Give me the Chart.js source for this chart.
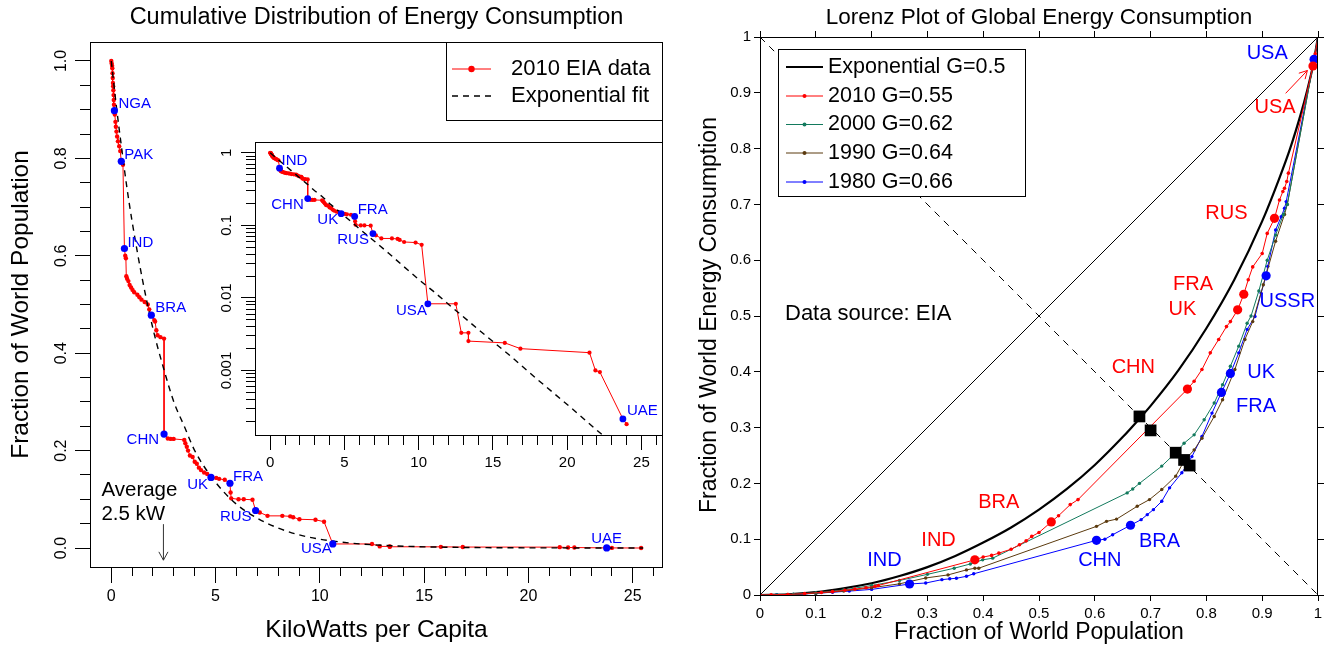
<!DOCTYPE html>
<html>
<head>
<meta charset="utf-8">
<title>Energy consumption distribution</title>
<script src="https://cdn.jsdelivr.net/npm/chart.js@4.4.1/dist/chart.umd.min.js"></script>
<style>
  body { margin: 0; background: #fff; }
  #wrap { position: relative; width: 1327px; height: 648px; overflow: hidden; background: #fff; }
  canvas { position: absolute; }
  #cdf { left: 0; top: 0; }
  #inset { left: 200px; top: 130px; }
  #lorenz { left: 690px; top: 0; }
</style>
</head>
<body>
<div id="wrap">
  <canvas id="cdf" width="690" height="648"></canvas>
  <canvas id="inset" width="470" height="340"></canvas>
  <canvas id="lorenz" width="637" height="648"></canvas>
</div>
<script>
// ---- left panel: 2010 EIA data, kW per capita vs fraction of population at or above it
const cdfKw = [
  0.00, 0.02, 0.04, 0.05, 0.06, 0.07, 0.08, 0.09, 0.10, 0.11, 0.12, 0.13, 0.15,
  0.17, 0.20, 0.22, 0.25, 0.28, 0.32, 0.38, 0.43, 0.48, 0.56,
  0.63, 0.67, 0.70, 0.72, 0.76, 0.82, 0.88, 0.95, 1.02, 1.10, 1.25, 1.35, 1.45, 1.60, 1.75, 1.82, 1.92,
  2.06, 2.10, 2.16, 2.22, 2.36, 2.53,
  2.53, 2.71, 2.85, 2.99, 3.50, 3.55, 3.62, 3.68, 3.77, 3.90, 4.00, 4.10, 4.20, 4.30, 4.45, 4.60, 4.78,
  5.03, 5.17, 5.44, 5.69, 5.72, 5.75, 6.10, 6.35, 6.77, 6.92,
  7.12, 7.49, 8.20, 8.58, 8.72, 9.02, 9.79, 10.20,
  10.62, 12.50, 12.87, 13.35, 13.35, 15.80, 16.85, 21.50, 21.90, 22.20, 23.75, 24.00, 25.40
];
const cdfFrac = [
  1.000, 0.995, 0.990, 0.985, 0.975, 0.965, 0.955, 0.948, 0.940, 0.930, 0.920, 0.910, 0.898,
  0.890, 0.875, 0.865, 0.855, 0.845, 0.835, 0.825, 0.815, 0.794, 0.787,
  0.615, 0.600, 0.595, 0.558, 0.553, 0.548, 0.540, 0.535, 0.530, 0.525, 0.520, 0.515, 0.510, 0.505, 0.500, 0.490, 0.478,
  0.468, 0.465, 0.447, 0.437, 0.433, 0.430,
  0.234, 0.225, 0.224, 0.224, 0.222, 0.215, 0.208, 0.200, 0.190, 0.187, 0.177, 0.173, 0.165, 0.160, 0.155, 0.152, 0.145,
  0.144, 0.142, 0.140, 0.133, 0.114, 0.102, 0.100, 0.100, 0.099, 0.077,
  0.073, 0.066, 0.066, 0.065, 0.063, 0.059, 0.058, 0.054,
  0.0083, 0.0083, 0.0033, 0.0033, 0.00254, 0.0024, 0.0020, 0.00176, 0.0010, 0.00095, 0.000215, 0.000182, 0
];

const countryCodes = ['NGA', 'PAK', 'IND', 'BRA', 'CHN', 'UK', 'FRA', 'RUS', 'USA', 'UAE'];
const countryKw = [0.15, 0.48, 0.63, 1.92, 2.53, 4.78, 5.69, 6.92, 10.62, 23.75];
const countryFrac = [0.898, 0.794, 0.615, 0.478, 0.234, 0.145, 0.133, 0.077, 0.0083, 0.000215];
const insetCountries = ['IND', 'CHN', 'UK', 'FRA', 'RUS', 'USA', 'UAE'];

// exponential fit
const fitKw = [0, 0.25, 0.5, 0.75, 1, 1.5, 2, 2.5, 3, 3.5, 4, 5, 6, 7, 8, 9, 10, 11, 12, 14, 16, 18, 20, 22, 24, 25.5];
const fitFrac = [1.0, 0.905, 0.82, 0.74, 0.67, 0.55, 0.45, 0.37, 0.30, 0.25, 0.20, 0.135, 0.09, 0.061, 0.041,
  0.027, 0.018, 0.0123, 0.0082, 0.0037, 0.0017, 0.00075, 0.00034, 0.00015, 0.000068, 0.000037];

const avgKw = 2.5;
const avgArrowFrac = [0.049, -0.025];
const avgLines = ['Average', '2.5 kW'];

const cdfXTicks = [0, 1, 2, 3, 4, 5, 6, 7, 8, 9, 10, 11, 12, 13, 14, 15, 16, 17, 18, 19, 20, 21, 22, 23, 24, 25, 26];
const cdfXMajor = [0, 5, 10, 15, 20, 25];
const cdfYTicks = [0, 0.05, 0.1, 0.15, 0.2, 0.25, 0.3, 0.35, 0.4, 0.45, 0.5, 0.55, 0.6, 0.65, 0.7, 0.75, 0.8, 0.85, 0.9, 0.95, 1.0];
const cdfYMajor = [0, 0.2, 0.4, 0.6, 0.8, 1.0];
const insetYTicks = [0.0002, 0.0003, 0.0004, 0.0005, 0.0006, 0.0007, 0.0008, 0.0009,
  0.001, 0.002, 0.003, 0.004, 0.005, 0.006, 0.007, 0.008, 0.009,
  0.01, 0.02, 0.03, 0.04, 0.05, 0.06, 0.07, 0.08, 0.09,
  0.1, 0.2, 0.3, 0.4, 0.5, 0.6, 0.7, 0.8, 0.9, 1];
const insetYMajor = [0.001, 0.01, 0.1, 1];

// ---- right panel: Lorenz curves
const expPop = [0, 0.05, 0.1, 0.15, 0.2, 0.25, 0.3, 0.35, 0.4, 0.45, 0.5, 0.55, 0.6, 0.65, 0.68, 0.7, 0.75, 0.8, 0.85, 0.9, 0.93, 0.95, 0.97, 0.98, 0.99, 1];
const expEnergy = [0, 0.001, 0.005, 0.012, 0.021, 0.034, 0.050, 0.070, 0.094, 0.121, 0.153, 0.190, 0.233, 0.283, 0.316, 0.339, 0.403, 0.478, 0.565, 0.670, 0.745, 0.800, 0.865, 0.902, 0.944, 1];

const pop2010 = [0, 0.02, 0.05, 0.08, 0.11, 0.13, 0.152, 0.17, 0.19, 0.206, 0.212, 0.385, 0.40, 0.415, 0.428, 0.45, 0.465,
  0.477, 0.487, 0.50, 0.522, 0.535, 0.556, 0.570, 0.766, 0.778, 0.792, 0.807, 0.822, 0.836, 0.843, 0.856, 0.867,
  0.875, 0.883, 0.90, 0.909, 0.922, 0.931, 0.937, 0.94, 0.944, 0.947, 0.991, 0.995, 1];
const energy2010 = [0, 0.0003, 0.001, 0.0025, 0.0045, 0.006, 0.0084, 0.0105, 0.013, 0.0155, 0.017, 0.063, 0.068, 0.071, 0.075, 0.082, 0.090,
  0.097, 0.105, 0.112, 0.131, 0.142, 0.162, 0.171, 0.369, 0.383, 0.404, 0.434, 0.458, 0.481, 0.490, 0.511, 0.539,
  0.565, 0.588, 0.612, 0.648, 0.675, 0.708, 0.723, 0.729, 0.741, 0.756, 0.948, 0.970, 1];

const pop2000 = [0, 0.03, 0.06, 0.1, 0.15, 0.2, 0.25, 0.3, 0.348, 0.377, 0.399, 0.417, 0.658, 0.668, 0.68, 0.72, 0.745, 0.76,
  0.778, 0.796, 0.814, 0.829, 0.843, 0.858, 0.873, 0.88, 0.894, 0.909, 0.924, 0.938, 0.945, 0.992, 1];
const energy2000 = [0, 0.0005, 0.0015, 0.004, 0.009, 0.017, 0.026, 0.037, 0.048, 0.0556, 0.063, 0.066, 0.183, 0.19, 0.2, 0.231, 0.255, 0.272,
  0.287, 0.314, 0.344, 0.377, 0.41, 0.446, 0.487, 0.5, 0.545, 0.6, 0.645, 0.682, 0.7, 0.955, 1];

const pop1990 = [0, 0.05, 0.1, 0.15, 0.2, 0.25, 0.297, 0.337, 0.37, 0.385, 0.392, 0.603, 0.621, 0.639, 0.676, 0.698, 0.72, 0.745,
  0.76, 0.778, 0.792, 0.814, 0.829, 0.851, 0.869, 0.883, 0.902, 0.924, 0.94, 0.945, 0.992, 1];
const energy1990 = [0, 0.001, 0.003, 0.007, 0.013, 0.02, 0.0305, 0.036, 0.045, 0.048, 0.048, 0.123, 0.132, 0.136, 0.159, 0.171, 0.189, 0.213,
  0.24, 0.26, 0.281, 0.32, 0.35, 0.404, 0.458, 0.49, 0.556, 0.634, 0.682, 0.7, 0.955, 1];

const pop1980 = [0, 0.03, 0.06, 0.1, 0.13, 0.16, 0.2, 0.268, 0.297, 0.326, 0.34, 0.352, 0.37, 0.383, 0.603, 0.618, 0.632, 0.664,
  0.683, 0.694, 0.705, 0.72, 0.734, 0.756, 0.774, 0.792, 0.81, 0.827, 0.843, 0.858, 0.873, 0.887, 0.898, 0.907,
  0.91, 0.924, 0.934, 0.94, 0.943, 0.993, 1];
const energy1980 = [0, 0.0004, 0.0012, 0.003, 0.005, 0.007, 0.01, 0.0197, 0.0215, 0.0275, 0.029, 0.030, 0.0335, 0.038, 0.098, 0.1, 0.108, 0.125,
  0.135, 0.144, 0.153, 0.168, 0.192, 0.219, 0.248, 0.284, 0.326, 0.363, 0.397, 0.434, 0.476, 0.499, 0.541, 0.572,
  0.589, 0.654, 0.678, 0.693, 0.705, 0.96, 1];

// highlighted countries on the 2010 and 1980 curves
const red2010Names = ['IND', 'BRA', 'CHN', 'UK', 'FRA', 'RUS', 'USA'];
const red2010Pop = [0.385, 0.522, 0.766, 0.856, 0.867, 0.922, 0.991];
const red2010Energy = [0.063, 0.131, 0.369, 0.511, 0.539, 0.675, 0.948];
const red2010LabelX = [0.32, 0.428, 0.669, 0.757, 0.776, 0.836, 0.923];
const red2010LabelY = [0.098, 0.165, 0.408, 0.511, 0.556, 0.684, 0.874];

const blue1980Names = ['IND', 'CHN', 'BRA', 'FRA', 'UK', 'USSR', 'USA'];
const blue1980Pop = [0.268, 0.603, 0.664, 0.827, 0.843, 0.907, 0.993];
const blue1980Energy = [0.0197, 0.098, 0.125, 0.363, 0.397, 0.572, 0.96];
const blue1980LabelX = [0.223, 0.609, 0.716, 0.889, 0.898, 0.945, 0.909];
const blue1980LabelY = [0.062, 0.062, 0.096, 0.337, 0.398, 0.526, 0.97];

// where each curve meets the anti-diagonal
const crossPop = [0.68, 0.70, 0.745, 0.76, 0.77];
const crossEnergy = [0.32, 0.295, 0.255, 0.242, 0.232];

const usaArrowPop = [0.942, 0.981];
const usaArrowEnergy = [0.899, 0.94];

const lorenzTicks = [0, 0.1, 0.2, 0.3, 0.4, 0.5, 0.6, 0.7, 0.8, 0.9, 1];
const lorenzLegend = ['Exponential G=0.5', '2010 G=0.55', '2000 G=0.62', '1990 G=0.64', '1980 G=0.66'];

const FONT = "'Liberation Sans', Arial, Helvetica, sans-serif";
const RED = '#ff0000', BLUE = '#0000ff', GREEN = '#137a5d', BROWN = '#5b3a0e';

Chart.defaults.font.family = FONT;
Chart.defaults.color = '#000';

function pts(xs, ys) {
  return xs.map((x, i) => ({ x: x, y: ys[i] }));
}

// R style axis: ticks outside, short minor ticks, labels only where wanted
function rAxis(o) {
  const horiz = o.position === 'bottom' || o.position === 'top';
  const isMinor = c => !!(o.major && c.tick && !o.major.includes(c.tick.value));
  return {
    type: o.type || 'linear',
    position: o.position,
    min: o.min,
    max: o.max,
    bounds: 'data',
    afterFit: s => { if (horiz) s.height = o.size; else s.width = o.size; },
    afterBuildTicks: s => { s.ticks = o.ticks.map(v => ({ value: v })); },
    border: { display: false },
    grid: {
      drawOnChartArea: false,
      drawTicks: true,
      tickLength: o.tl,
      tickColor: '#000',
      tickWidth: 1,
      tickBorderDash: c => isMinor(c) ? (horiz ? [o.minorLen, o.tl] : [o.minorLen, o.tl - o.minorLen]) : [],
      tickBorderDashOffset: c => (isMinor(c) && !horiz) ? o.minorLen : 0
    },
    ticks: {
      display: !!o.label,
      autoSkip: false,
      minRotation: o.rotate || 0,
      maxRotation: o.rotate || 0,
      crossAlign: o.rotate ? 'center' : 'near',
      padding: o.padding || 0,
      color: '#000',
      font: { size: o.font || 14 },
      callback: v => o.label ? o.label(v) : ''
    }
  };
}

function txt(ctx, s, x, y, size, opt) {
  opt = opt || {};
  ctx.save();
  ctx.font = size + 'px ' + FONT;
  ctx.fillStyle = opt.color || '#000';
  ctx.textAlign = opt.align || 'center';
  ctx.textBaseline = 'middle';
  ctx.translate(x, y);
  if (opt.rotate) ctx.rotate(-Math.PI / 2);
  ctx.fillText(s, 0, 0);
  ctx.restore();
}

function plotBox(ctx, a) {
  ctx.save();
  ctx.strokeStyle = '#000';
  ctx.lineWidth = 1;
  ctx.strokeRect(Math.round(a.left) + 0.5, Math.round(a.top) + 0.5,
    Math.round(a.right - a.left) - 1, Math.round(a.bottom - a.top));
  ctx.restore();
}

function seg(ctx, x1, y1, x2, y2, color, width, dash) {
  ctx.save();
  ctx.strokeStyle = color;
  ctx.lineWidth = width;
  ctx.setLineDash(dash || []);
  ctx.beginPath();
  ctx.moveTo(x1, y1);
  ctx.lineTo(x2, y2);
  ctx.stroke();
  ctx.restore();
}

function arrow(ctx, x1, y1, x2, y2, color, head) {
  seg(ctx, x1, y1, x2, y2, color, 1);
  const ang = Math.atan2(y2 - y1, x2 - x1);
  [-0.5, 0.5].forEach(d => {
    seg(ctx, x2, y2, x2 - head * Math.cos(ang + d), y2 - head * Math.sin(ang + d), color, 1);
  });
}

function dot(ctx, x, y, r, color) {
  ctx.save();
  ctx.fillStyle = color;
  ctx.beginPath();
  ctx.arc(x, y, r, 0, Math.PI * 2);
  ctx.fill();
  ctx.restore();
}

const baseOpts = {
  responsive: false,
  animation: false,
  events: [],
  plugins: { legend: { display: false }, tooltip: { enabled: false } }
};

// label offsets in pixels from the marked point: [dx, dy, align]
const cdfLabelStyle = {
  NGA: [4, -7, 'left'], PAK: [3, -6, 'left'], IND: [3, -6, 'left'], BRA: [4, -7, 'left'],
  CHN: [-5, 6, 'right'], UK: [-3, 7, 'right'], FRA: [3, -6, 'left'], RUS: [-4, 6, 'right'],
  USA: [-1, 5, 'right'], UAE: [0, -9, 'center']
};
const insetLabelStyle = {
  IND: [2, -7, 'left'], CHN: [-4, 6, 'right'], UK: [-3, 6, 'right'], FRA: [3, -7, 'left'],
  RUS: [-4, 6, 'right'], USA: [-1, 7, 'right'], UAE: [4, -8, 'left']
};

// ---------------- main CDF panel
const cdfDecor = {
  id: 'cdfDecor',
  afterDraw(chart) {
    const { ctx, chartArea: a, scales } = chart;
    const sx = scales.x, sy = scales.y;
    plotBox(ctx, a);
    const cx = (a.left + a.right) / 2;
    txt(ctx, 'Cumulative Distribution of Energy Consumption', cx, 18, 23.5);
    txt(ctx, 'KiloWatts per Capita', cx, 630, 24.5);
    txt(ctx, 'Fraction of World Population', 21.5, (a.top + a.bottom) / 2, 24.5, { rotate: true });

    // legend
    const lx = 446, ly = Math.round(a.top);
    ctx.save();
    ctx.fillStyle = '#fff';
    ctx.fillRect(lx + 0.5, ly + 0.5, Math.round(a.right) - lx - 1, 78);
    ctx.strokeStyle = '#000';
    ctx.lineWidth = 1;
    ctx.strokeRect(lx + 0.5, ly + 0.5, Math.round(a.right) - lx - 1, 78);
    ctx.restore();
    seg(ctx, lx + 6, ly + 27, lx + 45, ly + 27, RED, 1);
    dot(ctx, lx + 25.5, ly + 27, 3.2, RED);
    seg(ctx, lx + 6, ly + 54, lx + 45, ly + 54, '#000', 1.4, [6, 5]);
    txt(ctx, '2010 EIA data', lx + 65, ly + 27, 22, { align: 'left' });
    txt(ctx, 'Exponential fit', lx + 65, ly + 54, 22, { align: 'left' });

    // average marker
    const ax = sx.getPixelForValue(avgKw);
    const ay1 = sy.getPixelForValue(avgArrowFrac[0]);
    const ay2 = sy.getPixelForValue(avgArrowFrac[1]);
    arrow(ctx, ax, ay1, ax, ay2, '#333', 9.5);
    txt(ctx, avgLines[0], ax - 62, ay1 - 34, 20.5, { align: 'left' });
    txt(ctx, avgLines[1], ax - 62, ay1 - 10, 20.5, { align: 'left' });

    countryCodes.forEach((c, i) => {
      const st = cdfLabelStyle[c];
      txt(ctx, c, sx.getPixelForValue(countryKw[i]) + st[0], sy.getPixelForValue(countryFrac[i]) + st[1], 15,
        { align: st[2], color: BLUE });
    });
  }
};

new Chart(document.getElementById('cdf'), {
  type: 'scatter',
  data: {
    datasets: [
      { data: pts(countryKw, countryFrac), showLine: false, pointRadius: 3.6,
        pointBackgroundColor: BLUE, pointBorderWidth: 0 },
      { data: pts(fitKw, fitFrac), showLine: true, borderColor: '#000', borderWidth: 1.4,
        borderDash: [6, 5], pointRadius: 0, cubicInterpolationMode: 'monotone' },
      { data: pts(cdfKw, cdfFrac), showLine: true, borderColor: RED, borderWidth: 1,
        pointRadius: 2.2, pointBackgroundColor: RED, pointBorderWidth: 0 }
    ]
  },
  options: Object.assign({}, baseOpts, {
    layout: { padding: { left: 0, top: 42, right: 27, bottom: 0 } },
    scales: {
      x: rAxis({ position: 'bottom', min: -1.02, max: 26.45, size: 81, ticks: cdfXTicks, major: cdfXMajor,
        tl: 16, minorLen: 9, padding: 4, font: 16, label: v => cdfXMajor.includes(v) ? String(v) : '' }),
      y: rAxis({ position: 'left', min: -0.039, max: 1.039, size: 90, ticks: cdfYTicks, major: cdfYMajor,
        tl: 15, minorLen: 10, padding: 2, font: 16, rotate: 90,
        label: v => cdfYMajor.includes(v) ? v.toFixed(1) : '' })
    }
  }),
  plugins: [cdfDecor]
});

// ---------------- log inset
const insetDecor = {
  id: 'insetDecor',
  afterDraw(chart) {
    const { ctx, chartArea: a, scales } = chart;
    plotBox(ctx, a);
    countryCodes.forEach((c, i) => {
      if (!insetCountries.includes(c)) return;
      const st = insetLabelStyle[c];
      txt(ctx, c, scales.x.getPixelForValue(countryKw[i]) + st[0], scales.y.getPixelForValue(countryFrac[i]) + st[1], 15,
        { align: st[2], color: BLUE });
    });
  }
};

const insetPick = countryCodes.map(c => insetCountries.includes(c));

new Chart(document.getElementById('inset'), {
  type: 'scatter',
  data: {
    datasets: [
      { data: pts(countryKw, countryFrac).filter((p, i) => insetPick[i]), showLine: false, pointRadius: 3.4,
        pointBackgroundColor: BLUE, pointBorderWidth: 0 },
      { data: pts(fitKw, fitFrac), showLine: true, borderColor: '#000', borderWidth: 1.4,
        borderDash: [6, 5], pointRadius: 0 },
      { data: pts(cdfKw, cdfFrac).filter(p => p.y > 0), showLine: true, borderColor: RED, borderWidth: 1,
        pointRadius: 2.1, pointBackgroundColor: RED, pointBorderWidth: 0 }
    ]
  },
  options: Object.assign({}, baseOpts, {
    layout: { padding: { left: 0, top: 12, right: 7, bottom: 0 } },
    scales: {
      x: rAxis({ position: 'bottom', min: -1.02, max: 26.45, size: 35, ticks: cdfXTicks, major: cdfXMajor,
        tl: 15, minorLen: 10, padding: 4, font: 15, label: v => cdfXMajor.includes(v) ? String(v) : '' }),
      y: rAxis({ type: 'logarithmic', position: 'left', min: 0.000129, max: 1.41, size: 55, ticks: insetYTicks,
        major: insetYMajor, tl: 14, minorLen: 9, padding: -5, font: 15, rotate: 90,
        label: v => insetYMajor.includes(v) ? String(v) : '' })
    }
  }),
  plugins: [insetDecor]
});

// ---------------- Lorenz panel
const lorenzDecor = {
  id: 'lorenzDecor',
  afterDraw(chart) {
    const { ctx, chartArea: a, scales } = chart;
    const sx = scales.x, sy = scales.y;
    plotBox(ctx, a);
    const cx = (a.left + a.right) / 2;
    txt(ctx, 'Lorenz Plot of Global Energy Consumption', cx, 17.5, 22.5);
    txt(ctx, 'Fraction of World Population', cx, 633, 23);
    txt(ctx, 'Fraction of World Energy Consumption', 20, 315, 23, { rotate: true });
    txt(ctx, 'Data source: EIA', 95, 313.5, 22, { align: 'left' });

    // legend
    const lx = 88, ly = 49, lw = 247, lh = 147;
    ctx.save();
    ctx.fillStyle = '#fff';
    ctx.fillRect(lx + 0.5, ly + 0.5, lw, lh);
    ctx.strokeStyle = '#000';
    ctx.lineWidth = 1;
    ctx.strokeRect(lx + 0.5, ly + 0.5, lw, lh);
    ctx.restore();
    const rows = [67, 96, 124.5, 153, 182];
    const cols = ['#000', RED, GREEN, BROWN, BLUE];
    lorenzLegend.forEach((t, i) => {
      seg(ctx, 96, rows[i], 133, rows[i], cols[i], i === 0 ? 2 : 1);
      if (i > 0) dot(ctx, 114.5, rows[i], 2, cols[i]);
      txt(ctx, t, 138, rows[i], 21.5, { align: 'left' });
    });

    red2010Names.forEach((n, i) => {
      txt(ctx, n, sx.getPixelForValue(red2010LabelX[i]), sy.getPixelForValue(red2010LabelY[i]), 20, { color: RED });
    });
    blue1980Names.forEach((n, i) => {
      txt(ctx, n, sx.getPixelForValue(blue1980LabelX[i]), sy.getPixelForValue(blue1980LabelY[i]), 20, { color: BLUE });
    });
    arrow(ctx, sx.getPixelForValue(usaArrowPop[0]), sy.getPixelForValue(usaArrowEnergy[0]),
      sx.getPixelForValue(usaArrowPop[1]), sy.getPixelForValue(usaArrowEnergy[1]), RED, 9);
  }
};

function curve(xs, ys, color, r) {
  return { data: pts(xs, ys), showLine: true, borderColor: color, borderWidth: 1,
    pointRadius: r, pointBackgroundColor: color, pointBorderWidth: 0 };
}

new Chart(document.getElementById('lorenz'), {
  type: 'scatter',
  data: {
    datasets: [
      { data: pts(crossPop, crossEnergy), showLine: false, pointStyle: 'rect', pointRadius: 8.3,
        pointBackgroundColor: '#000', pointBorderWidth: 0 },
      { data: pts(red2010Pop, red2010Energy), showLine: false, pointRadius: 4.6,
        pointBackgroundColor: RED, pointBorderWidth: 0 },
      { data: pts(blue1980Pop, blue1980Energy), showLine: false, pointRadius: 4.6,
        pointBackgroundColor: BLUE, pointBorderWidth: 0 },
      curve(pop2010, energy2010, RED, 1.8),
      curve(pop2000, energy2000, GREEN, 1.7),
      curve(pop1990, energy1990, BROWN, 1.7),
      curve(pop1980, energy1980, BLUE, 1.7),
      { data: pts(expPop, expEnergy), showLine: true, borderColor: '#000', borderWidth: 2.2,
        pointRadius: 0, cubicInterpolationMode: 'monotone' },
      { data: pts([0, 1], [0, 1]), showLine: true, borderColor: '#000', borderWidth: 1, pointRadius: 0 },
      { data: pts([0, 1], [1, 0]), showLine: true, borderColor: '#000', borderWidth: 1,
        borderDash: [7, 6], pointRadius: 0 }
    ]
  },
  options: Object.assign({}, baseOpts, {
    layout: { padding: 0 },
    scales: {
      x: rAxis({ position: 'bottom', min: 0, max: 1, size: 53, ticks: lorenzTicks, tl: 6, padding: 4, font: 15,
        label: v => String(v) }),
      x2: rAxis({ position: 'top', min: 0, max: 1, size: 37, ticks: lorenzTicks, tl: 6 }),
      y: rAxis({ position: 'left', min: 0, max: 1, size: 70, ticks: lorenzTicks, tl: 6, padding: 3, font: 15,
        label: v => String(v) }),
      y2: rAxis({ position: 'right', min: 0, max: 1, size: 9, ticks: lorenzTicks, tl: 6 })
    }
  }),
  plugins: [lorenzDecor]
});
</script>
</body>
</html>
